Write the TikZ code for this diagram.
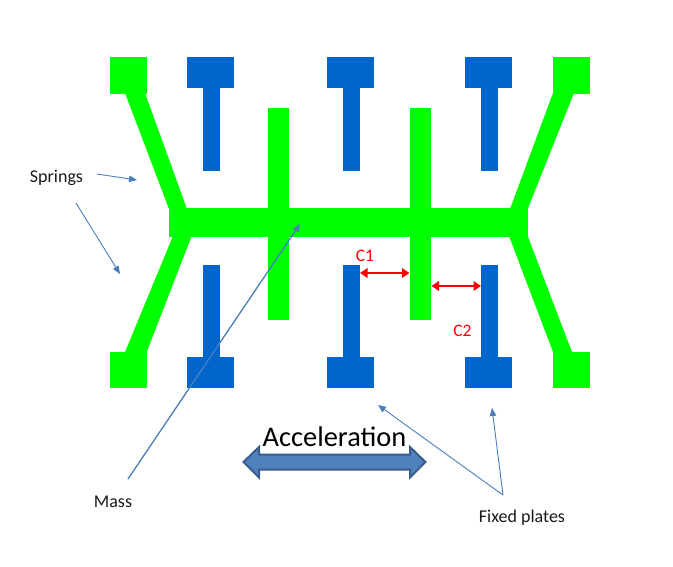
\documentclass[tikz,border=0pt]{standalone}
\usepackage{fontspec}
\setmainfont{Carlito}
\usetikzlibrary{arrows.meta}
\definecolor{gr}{HTML}{00FF00}
\definecolor{bl}{HTML}{0066CC}
\definecolor{ptr}{HTML}{4A7EBB}
\definecolor{accF}{HTML}{4F81BD}
\definecolor{accD}{HTML}{385D8A}
\tikzset{
  x=1pt,y=-1pt,
  greenpart/.style={fill=gr,draw=none},
  bluepart/.style={fill=bl,draw=none},
  ptrline/.style={draw=ptr,line width=0.9pt,-{Triangle[length=8pt,width=6.5pt,fill=ptr]}},
  gaparrow/.style={draw=red,line width=2pt,{Triangle[length=7.5pt,width=9.5pt,fill=red]}-{Triangle[length=7.5pt,width=9.5pt,fill=red]},shorten >=0pt,shorten <=0pt},
  lbl/.style={font=\fontsize{18pt}{22pt}\selectfont,text=black!90,inner sep=0pt},
  redlbl/.style={font=\fontsize{17.5pt}{21pt}\selectfont,text=red,inner sep=0pt},
}
\newcommand{\teeup}[1]{%
  \fill[bluepart] (#1,57) rectangle ++(47,31);
  \fill[bluepart] (#1+16,88) rectangle ++(17,82.7);
}
\newcommand{\teedown}[1]{%
  \fill[bluepart] (#1,357) rectangle ++(47,31);
  \fill[bluepart] (#1+16,264.5) rectangle ++(17,92.5);
}
\begin{document}
\begin{tikzpicture}
\useasboundingbox (0,0) rectangle (673,566);
\fill[white] (0,0) rectangle (673,566);
% green structure
\fill[greenpart] (110,57) rectangle (147,94);
\fill[greenpart] (553,57) rectangle (590,94);
\fill[greenpart] (110,351.5) rectangle (147,388);
\fill[greenpart] (553,351.5) rectangle (590,388);
\fill[greenpart] (125,93) -- (145,93) -- (187,209) -- (169,209) -- cycle;
\fill[greenpart] (553,93) -- (574,93) -- (527.7,209) -- (510,209) -- cycle;
\fill[greenpart] (173,236) -- (191.7,236) -- (146.7,352) -- (125,352) -- cycle;
\fill[greenpart] (509,236) -- (527.7,236) -- (572,352) -- (553,352) -- cycle;
\fill[greenpart] (169,208) rectangle (527.7,236.7);
\fill[greenpart] (268,108) rectangle (289,320);
\fill[greenpart] (410,108) rectangle (431,320);
% fixed plates
\teeup{187}\teeup{327}\teeup{465}
\teedown{187}\teedown{327}\teedown{465}
% gap arrows
\coordinate (c1l) at (360,273);
\coordinate (c1r) at (409.5,273);
\coordinate (c2l) at (431.5,286);
\coordinate (c2r) at (481,286);
\draw[gaparrow] (c1l) -- (c1r);
\draw[gaparrow] (c2l) -- (c2r);
\node[redlbl] (c1) at (365,256) {C1};
\node[redlbl] (c2) at (462.5,331) {C2};
% labels
\node[lbl] (springs) at (56.5,178) {Springs};
\node[lbl] (mass) at (113,502) {Mass};
\node[lbl] (fixed) at (522,517.5) {Fixed plates};
% pointers
\coordinate (s1a) at (97,174);
\coordinate (s1b) at (137,180);
\coordinate (s2a) at (76,203);
\coordinate (s2b) at (120,274);
\coordinate (ma) at (128,479);
\coordinate (mb) at (300,224);
\coordinate (fa) at (503,495);
\coordinate (fb) at (378,405);
\coordinate (fc) at (492,408);
\draw[ptrline] (s1a) -- (s1b);
\draw[ptrline] (s2a) -- (s2b);
\draw[ptrline,line width=1.3pt] (ma) -- (mb);
\draw[ptrline] (fa) -- (fb);
\draw[ptrline] (fa) -- (fc);
% acceleration
\node[font=\fontsize{28.4pt}{32pt}\selectfont,text=black,inner sep=0pt] (acc) at (334.5,437) {Acceleration};
\draw[fill=accF,draw=accD,line width=2pt,line join=miter]
  (243.5,462) -- (259,447) -- (259,454.5) -- (410,454.5) -- (410,447) -- (425.5,462)
  -- (410,477.5) -- (410,469.5) -- (259,469.5) -- (259,477.5) -- cycle;
\end{tikzpicture}
\end{document}
